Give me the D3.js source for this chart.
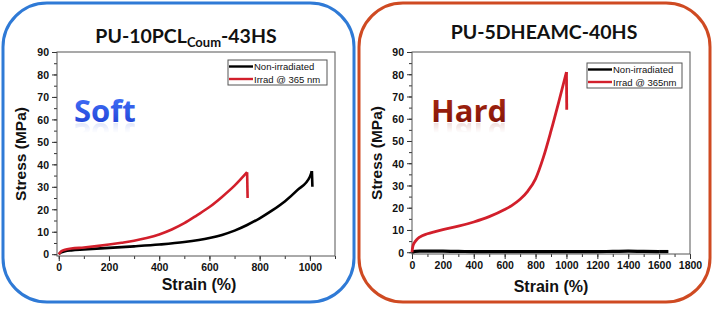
<!DOCTYPE html>
<html>
<head>
<meta charset="utf-8">
<script src="https://cdn.jsdelivr.net/npm/d3@7"></script>
<style>
  body { margin: 0; background: #fff; }
  svg { display: block; }
  .tick text { font-family: "Liberation Sans", Arial, sans-serif; font-weight: bold; font-size: 10.5px; fill: #111; }
</style>
</head>
<body>
<div id="chart"></div>
<script>
// Soft panel (PU-10PCL_Coum-43HS)
const softIrradStrain = [0, 10, 25, 50, 100, 150, 200, 250, 300, 350, 400, 450, 500, 550, 600, 650, 700, 750, 752];
const softIrradStress = [0, 1.3, 2.0, 2.5, 3.0, 3.6, 4.3, 5.1, 6.0, 7.2, 8.8, 11, 13.8, 17.3, 21, 25.5, 30.5, 36.5, 25];
const softNonStrain = [0, 10, 25, 50, 100, 200, 300, 400, 500, 600, 650, 700, 750, 800, 850, 900, 950, 1000, 1008, 1010];
const softNonStress = [0, 0.8, 1.3, 1.7, 2.1, 2.8, 3.5, 4.3, 5.4, 7.2, 8.6, 10.5, 13, 16, 19.5, 23.5, 28.5, 34.5, 37, 30];
const softXTicks = [0, 200, 400, 600, 800, 1000];

// Hard panel (PU-5DHEAMC-40HS)
const hardIrradStrain = [0, 5, 15, 30, 50, 100, 150, 200, 300, 400, 500, 600, 650, 700, 750, 800, 850, 900, 950, 1000, 1002];
const hardIrradStress = [0, 2.5, 4.2, 5.6, 6.8, 8.3, 9.3, 10.2, 11.7, 13.6, 16, 19.2, 21.2, 23.8, 27.5, 33, 42.5, 54.5, 67.5, 81, 64];
const hardNonStrain = [0, 20, 50, 100, 200, 300, 400, 600, 800, 1000, 1200, 1300, 1400, 1500, 1600, 1660];
const hardNonStress = [0, 0.4, 0.5, 0.5, 0.45, 0.35, 0.3, 0.3, 0.3, 0.3, 0.3, 0.35, 0.45, 0.35, 0.3, 0.3];
const hardXTicks = [0, 200, 400, 600, 800, 1000, 1200, 1400, 1600, 1800];

const yTicks = [0, 10, 20, 30, 40, 50, 60, 70, 80, 90];
const legendLabelsSoft = ['Non-irradiated', 'Irrad @ 365 nm'];
const legendLabelsHard = ['Non-irradiated', 'Irrad @  365nm'];

const W = 714, H = 309;
const RED = '#d21f2b', BLACK = '#000';

const svg = d3.select('#chart').append('svg')
    .attr('width', W)
    .attr('height', H);

svg.append('rect').attr('width', W).attr('height', H).attr('fill', '#fff');

const defs = svg.append('defs');

function textGradient(id, c1, c2) {
    const g = defs.append('linearGradient')
        .attr('id', id).attr('x1', 0).attr('y1', 0).attr('x2', 0).attr('y2', 1);
    g.append('stop').attr('offset', '0%').attr('stop-color', c1);
    g.append('stop').attr('offset', '100%').attr('stop-color', c2);
}
textGradient('softGrad', '#4a7cff', '#1a3ad0');
textGradient('hardGrad', '#b02c14', '#7a0f05');

// reflection fade (bbox of the flipped copy: bottom of local box is nearest the word)
const fade = defs.append('linearGradient')
    .attr('id', 'fade').attr('x1', 0).attr('y1', 0).attr('x2', 0).attr('y2', 1);
fade.append('stop').attr('offset', '0%').attr('stop-color', '#fff').attr('stop-opacity', 0);
fade.append('stop').attr('offset', '55%').attr('stop-color', '#fff').attr('stop-opacity', 0);
fade.append('stop').attr('offset', '100%').attr('stop-color', '#fff').attr('stop-opacity', 0.6);
defs.append('mask').attr('id', 'fadeMask')
    .attr('maskContentUnits', 'objectBoundingBox')
    .append('rect').attr('width', 1).attr('height', 1).attr('fill', 'url(#fade)');

function drawPanel(cfg) {
    // rounded frame
    svg.append('rect')
        .attr('x', cfg.box[0]).attr('y', cfg.box[1])
        .attr('width', cfg.box[2]).attr('height', cfg.box[3])
        .attr('rx', 44).attr('ry', 44)
        .attr('fill', 'none')
        .attr('stroke', cfg.frameColor)
        .attr('stroke-width', 3);

    const p = cfg.plot;
    const g = svg.append('g').attr('transform', `translate(${p.left},${p.top})`);

    const x = d3.scaleLinear().domain(cfg.xDomain).range([0, p.width]);
    const y = d3.scaleLinear().domain([-0.8, 90]).range([p.height, 0]);

    // minor ticks
    const xMinor = d3.range(0, cfg.xDomain[1] + 1, 100);
    g.append('g')
        .attr('transform', `translate(0,${p.height})`)
        .call(d3.axisBottom(x).tickValues(xMinor).tickSize(3).tickFormat(''))
        .call(a => a.select('.domain').remove())
        .selectAll('line').attr('stroke', '#333');
    g.append('g')
        .call(d3.axisLeft(y).tickValues(d3.range(0, 91, 5)).tickSize(3).tickFormat(''))
        .call(a => a.select('.domain').remove())
        .selectAll('line').attr('stroke', '#333');

    // major ticks
    const xAxis = g.append('g')
        .attr('transform', `translate(0,${p.height})`)
        .call(d3.axisBottom(x).tickValues(cfg.xTicks).tickSize(5).tickPadding(3).tickFormat(d3.format('d')));
    xAxis.select('.domain').remove();
    xAxis.selectAll('line').attr('stroke', '#333');

    const yAxis = g.append('g')
        .call(d3.axisLeft(y).tickValues(yTicks).tickSize(5).tickPadding(3));
    yAxis.select('.domain').remove();
    yAxis.selectAll('line').attr('stroke', '#333');
    yAxis.selectAll('text').attr('dy', '0.36em');

    // plot frame
    g.append('rect')
        .attr('width', p.width).attr('height', p.height)
        .attr('fill', 'none').attr('stroke', '#555').attr('stroke-width', 1);

    // curves
    const line = d3.line()
        .x(d => x(d[0]))
        .y(d => y(d[1]))
        .curve(d3.curveMonotoneX);
    const lineLin = d3.line().x(d => x(d[0])).y(d => y(d[1]));

    cfg.series.forEach(s => {
        const pts = s.strain.map((v, i) => [v, s.stress[i]]);
        g.append('path')
            .datum(pts.slice(0, -1))
            .attr('d', line)
            .attr('fill', 'none')
            .attr('stroke', s.color)
            .attr('stroke-width', s.width);
        // failure drop
        g.append('path')
            .datum(pts.slice(-2))
            .attr('d', lineLin)
            .attr('fill', 'none')
            .attr('stroke', s.color)
            .attr('stroke-width', s.width);
    });

    // legend
    const lg = g.append('g').attr('transform', `translate(${cfg.legend[0]},${cfg.legend[1]})`);
    lg.append('rect')
        .attr('width', cfg.legend[2]).attr('height', 25)
        .attr('fill', '#fff').attr('stroke', '#555').attr('stroke-width', 1);
    [BLACK, RED].forEach((c, i) => {
        lg.append('line')
            .attr('x1', 1).attr('x2', 25)
            .attr('y1', 6.5 + i * 12.5).attr('y2', 6.5 + i * 12.5)
            .attr('stroke', c).attr('stroke-width', 2.4);
        lg.append('text')
            .attr('x', 26).attr('y', 10 + i * 12.5)
            .attr('font-family', '"Liberation Sans", Arial, sans-serif')
            .attr('font-size', 9.5)
            .attr('fill', '#111')
            .text(cfg.legendLabels[i]);
    });

    // axis labels
    svg.append('text')
        .attr('x', p.left + p.width / 2 + cfg.xLabelShift).attr('y', cfg.xLabelY)
        .attr('text-anchor', 'middle')
        .attr('font-family', '"Liberation Sans", Arial, sans-serif')
        .attr('font-weight', 'bold')
        .attr('font-size', 16)
        .attr('fill', '#111')
        .text('Strain (%)');

    svg.append('text')
        .attr('transform', `translate(${cfg.box[0] + 23},${p.top + p.height / 2}) rotate(-90)`)
        .attr('text-anchor', 'middle')
        .attr('font-family', '"Liberation Sans", Arial, sans-serif')
        .attr('font-weight', 'bold')
        .attr('font-size', 15.5)
        .attr('fill', '#111')
        .text('Stress (MPa)');

    // title
    const t = svg.append('text')
        .attr('x', cfg.title.x).attr('y', cfg.title.y)
        .attr('text-anchor', 'middle')
        .attr('font-family', 'Lato, "Open Sans", sans-serif')
        .attr('font-weight', 'bold')
        .attr('font-size', 19.5)
        .attr('fill', '#111');
    cfg.title.parts.forEach(part => {
        const ts = t.append('tspan').text(part.text);
        if (part.sub) ts.attr('font-size', 13).attr('dy', 4);
        if (part.after) ts.attr('dy', -4);
    });

    // big word with a faded mirror copy underneath
    const word = cfg.word;
    svg.append('text')
        .attr('id', word.id)
        .attr('x', word.x).attr('y', word.y)
        .attr('font-family', '"Open Sans", Lato, sans-serif')
        .attr('font-weight', 'bold')
        .attr('font-size', 31)
        .attr('fill', `url(#${word.grad})`)
        .text(word.text);
    svg.append('use')
        .attr('href', `#${word.id}`)
        .attr('transform', `translate(0,${word.y * 2 + 1}) scale(1,-1)`)
        .attr('opacity', 0.45)
        .attr('mask', 'url(#fadeMask)');
}

drawPanel({
    box: [3, 3, 351, 299],
    frameColor: '#2f7ad6',
    plot: { left: 57, top: 52, width: 278, height: 204 },
    xDomain: [-7, 1100],
    xTicks: softXTicks,
    xLabelShift: 3,
    xLabelY: 290,
    series: [
        { strain: softNonStrain, stress: softNonStress, color: BLACK, width: 2.6 },
        { strain: softIrradStrain, stress: softIrradStress, color: RED, width: 2.6 }
    ],
    legend: [171, 8, 99],
    legendLabels: legendLabelsSoft,
    title: { x: 186, y: 43, parts: [{ text: 'PU-10PCL' }, { text: 'Coum', sub: true }, { text: '-43HS', after: true }] },
    word: { id: 'softWord', text: 'Soft', x: 74, y: 122, grad: 'softGrad' }
});

drawPanel({
    box: [359, 3, 351, 299],
    frameColor: '#cf4a22',
    plot: { left: 412, top: 52, width: 278, height: 202 },
    xDomain: [0, 1800],
    xTicks: hardXTicks,
    xLabelShift: 0,
    xLabelY: 292,
    series: [
        { strain: hardNonStrain, stress: hardNonStress, color: BLACK, width: 3.2 },
        { strain: hardIrradStrain, stress: hardIrradStress, color: RED, width: 2.8 }
    ],
    legend: [175, 11, 95],
    legendLabels: legendLabelsHard,
    title: { x: 544, y: 39, parts: [{ text: 'PU-5DHEAMC-40HS' }] },
    word: { id: 'hardWord', text: 'Hard', x: 431, y: 122, grad: 'hardGrad' }
});
</script>
</body>
</html>
